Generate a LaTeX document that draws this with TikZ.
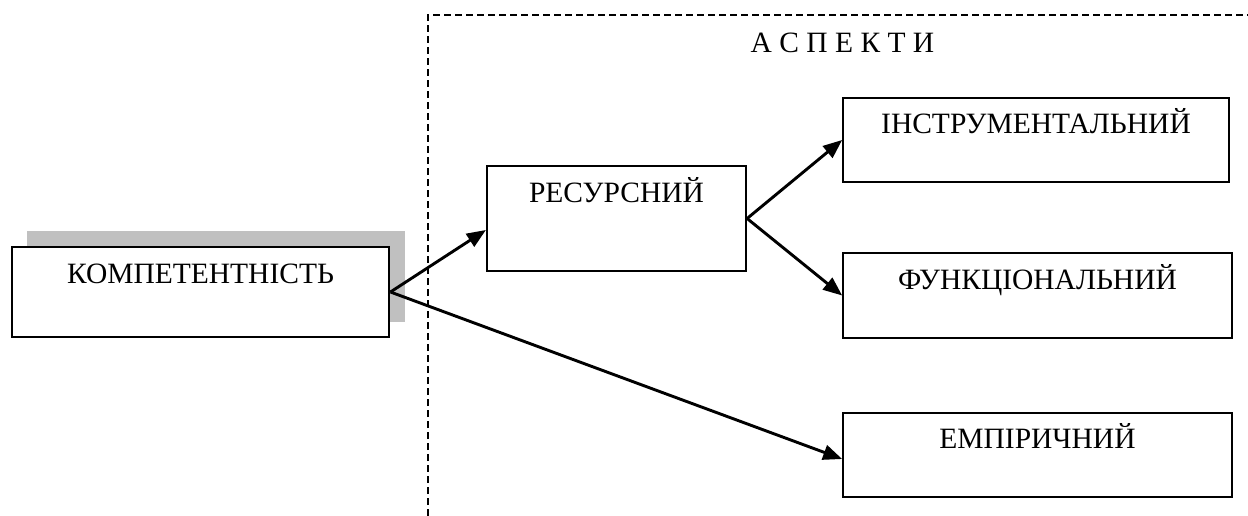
\documentclass[tikz,border=0pt]{standalone}
\usepackage{fontspec}
\setmainfont{Liberation Serif}
\usetikzlibrary{arrows.meta,calc}
\tikzset{
  boxnode/.style={draw=black, fill=white, rectangle, inner sep=0pt},
  lbl/.style={anchor=base, inner sep=0pt, font=\fontsize{29.5}{34}\selectfont},
  conn/.style={line width=2.9pt, -{Triangle[length=19pt,width=15pt]}},
  dashline/.style={line width=1.7pt, dash pattern=on 7pt off 4pt}
}
\begin{document}
\begin{tikzpicture}[x=1pt,y=-1pt]
\useasboundingbox (0,0) rectangle (1248,516);
% dashed frame
\coordinate (dtop) at (428,15);
\coordinate (dbot) at (428,516);
\coordinate (dright) at (1248,15);
\draw[dashline] (dbot) -- (dtop) -- (dright);
\node[anchor=base, inner sep=0pt, font=\fontsize{29.5}{34}\selectfont] (asp) at (842.5,53) {А С П Е К Т И};
% shadow
\fill[fill={rgb,255:red,192;green,192;blue,192}] (27,231) rectangle (405,322);
% boxes
\node[boxnode, line width=2.9pt, minimum width=377pt, minimum height=90pt] (komp) at (200.5,292) {};
\node[boxnode, line width=2.2pt, minimum width=259pt, minimum height=105pt] (res) at (616.5,218.5) {};
\node[boxnode, line width=1.7pt, minimum width=386pt, minimum height=84pt] (instr) at (1036,140) {};
\node[boxnode, line width=1.7pt, minimum width=389pt, minimum height=85pt] (funk) at (1037.5,295.5) {};
\node[boxnode, line width=1.7pt, minimum width=389pt, minimum height=84pt] (emp) at (1037.5,455) {};
% labels
\node[lbl] (kompT) at ($(komp.north)+(0,38)$) {КОМПЕТЕНТНІСТЬ};
\node[lbl] (resT) at ($(res.north)+(0,38)$) {РЕСУРСНИЙ};
\node[lbl] (instrT) at ($(instr.north)+(0,36)$) {ІНСТРУМЕНТАЛЬНИЙ};
\node[lbl] (funkT) at ($(funk.north)+(0,37)$) {ФУНКЦІОНАЛЬНИЙ};
\node[lbl] (empT) at ($(emp.north)+(0,36)$) {ЕМПІРИЧНИЙ};
% connectors
\draw[conn] (komp.east) -- ($(res.west)+(0,11.5)$);
\draw[conn] (komp.east) -- ($(emp.west)+(0,4)$);
\draw[conn] (res.east) -- (instr.west);
\draw[conn] (res.east) -- (funk.west);
\end{tikzpicture}
\end{document}
